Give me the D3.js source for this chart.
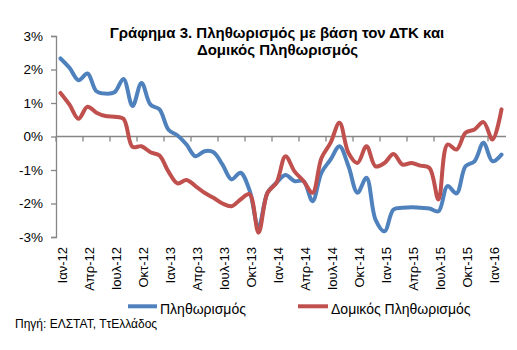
<!DOCTYPE html>
<html>
<head>
<meta charset="utf-8">
<script src="https://cdn.jsdelivr.net/npm/d3@7"></script>
<style>
  html, body { margin: 0; padding: 0; background: #fff; }
  svg { display: block; font-family: "Liberation Sans", Arial, sans-serif; }
</style>
</head>
<body>
<svg id="chart" width="517" height="350"></svg>
<script>
// Monthly categories, Jan 2012 – Feb 2016
const monthNames = ["Ιαν", "Φεβ", "Μαρ", "Απρ", "Μαϊ", "Ιουν", "Ιουλ", "Αυγ", "Σεπ", "Οκτ", "Νοε", "Δεκ"];
const years = ["12", "13", "14", "15", "16"];
const categories = years.flatMap(y => monthNames.map(m => `${m}-${y}`)).slice(0, 50);

// Every third month carries a label
const tickLabels = ["Ιαν-12", "Απρ-12", "Ιουλ-12", "Οκτ-12", "Ιαν-13", "Απρ-13", "Ιουλ-13", "Οκτ-13",
  "Ιαν-14", "Απρ-14", "Ιουλ-14", "Οκτ-14", "Ιαν-15", "Απρ-15", "Ιουλ-15", "Οκτ-15", "Ιαν-16"];

const yTicks = [-3, -2, -1, 0, 1, 2, 3];

// Headline inflation (HICP), % y-o-y
const inflation = [
  2.33, 2.05, 1.68, 1.88, 1.35, 1.28, 1.32, 1.72, 0.91, 1.60, 0.95, 0.81,
  0.20, 0.03, -0.24, -0.59, -0.44, -0.47, -0.84, -1.28, -1.08, -1.60, -2.70, -1.68,
  -1.38, -1.15, -1.33, -1.33, -1.93, -1.08, -0.69, -0.29, -0.89, -1.68, -1.23, -2.48,
  -2.83, -2.18, -2.13, -2.11, -2.13, -2.15, -2.23, -1.48, -1.70, -0.89, -0.74, -0.19,
  -0.74, -0.54
];

// Core inflation, % y-o-y
const coreInflation = [
  1.30, 0.95, 0.53, 0.89, 0.71, 0.61, 0.59, 0.53, -0.31, -0.29, -0.47, -0.57,
  -1.05, -1.40, -1.30, -1.48, -1.68, -1.83, -2.00, -2.08, -1.88, -1.72, -2.87, -1.68,
  -1.38, -0.59, -1.04, -1.33, -1.68, -0.64, -0.19, 0.41, -0.49, -0.79, -0.29, -0.89,
  -0.79, -0.52, -0.84, -0.79, -0.87, -0.94, -1.88, -0.24, -0.39, 0.11, 0.21, 0.43,
  -0.09, 0.81
];

const seriesNames = ["Πληθωρισμός", "Δομικός Πληθωρισμός"];
const seriesColors = ["#4F81BD", "#C0504D"];

const svg = d3.select("#chart");

const plot = { left: 56, right: 506, top: 36, bottom: 237 };

const x = d3.scaleBand().domain(categories).range([plot.left, plot.right]).padding(0);
const y = d3.scaleLinear().domain([-3, 3]).range([plot.bottom, plot.top]);
const cx = c => x(c) + x.bandwidth() / 2;

const axisColor = "#868686";

// Title
const title = svg.append("g")
  .attr("font-weight", "bold")
  .attr("font-size", 15)
  .attr("text-anchor", "middle")
  .attr("fill", "#000");
title.append("text").attr("x", 277).attr("y", 38).text("Γράφημα 3. Πληθωρισμός με βάση τον ΔΤΚ και");
title.append("text").attr("x", 277.5).attr("y", 54.5).text("Δομικός Πληθωρισμός");

// Y axis
const yAxis = d3.axisLeft(y)
  .tickValues(yTicks)
  .tickSize(5)
  .tickPadding(8)
  .tickFormat(d => `${d}%`);
const gy = svg.append("g").attr("transform", `translate(${plot.left},0)`).call(yAxis);
gy.select(".domain").attr("stroke", axisColor).attr("stroke-width", 1.3);
gy.selectAll(".tick line").attr("stroke", axisColor).attr("stroke-width", 1.3);
gy.selectAll(".tick text")
  .attr("font-size", 13.5)
  .attr("font-family", "Liberation Sans, Arial, sans-serif")
  .attr("fill", "#000");

// Category axis along the zero line
const zeroY = y(0);
svg.append("line")
  .attr("x1", plot.left).attr("x2", plot.right)
  .attr("y1", zeroY).attr("y2", zeroY)
  .attr("stroke", axisColor).attr("stroke-width", 1.3);

const labelled = categories.filter((c, i) => i % 3 === 0);
svg.append("g").selectAll("line")
  .data(labelled)
  .join("line")
  .attr("x1", d => x(d)).attr("x2", d => x(d))
  .attr("y1", zeroY).attr("y2", zeroY + 5)
  .attr("stroke", axisColor).attr("stroke-width", 1.3);

// Rotated month labels below the plot
svg.append("g").selectAll("text")
  .data(tickLabels)
  .join("text")
  .attr("transform", d => `translate(${cx(categories[tickLabels.indexOf(d) * 3]) + 1.5},247) rotate(-90)`)
  .attr("text-anchor", "end")
  .attr("dy", "0.35em")
  .attr("font-size", 13)
  .attr("fill", "#000")
  .text(d => d);

// Smoothed series lines
const line = d3.line()
  .x((d, i) => cx(categories[i]))
  .y(d => y(d))
  .curve(d3.curveCatmullRom.alpha(0.5));

[inflation, coreInflation].forEach((values, k) => {
  svg.append("path")
    .datum(values)
    .attr("fill", "none")
    .attr("stroke", seriesColors[k])
    .attr("stroke-width", 4)
    .attr("stroke-linejoin", "round")
    .attr("stroke-linecap", "round")
    .attr("d", line);
});

// Legend
const legendItems = [
  { x1: 128, x2: 157, tx: 160 },
  { x1: 298, x2: 328, tx: 331 }
];
legendItems.forEach((it, k) => {
  svg.append("line")
    .attr("x1", it.x1).attr("x2", it.x2)
    .attr("y1", 306.3).attr("y2", 306.3)
    .attr("stroke", seriesColors[k]).attr("stroke-width", 4);
  svg.append("text")
    .attr("x", it.tx).attr("y", 314)
    .attr("font-size", 14)
    .attr("fill", "#000")
    .text(seriesNames[k]);
});

// Source note
svg.append("text")
  .attr("x", 15).attr("y", 327.5)
  .attr("font-size", 12)
  .attr("fill", "#000")
  .text("Πηγή: ΕΛΣΤΑΤ, ΤτΕλλάδος");
</script>
</body>
</html>
